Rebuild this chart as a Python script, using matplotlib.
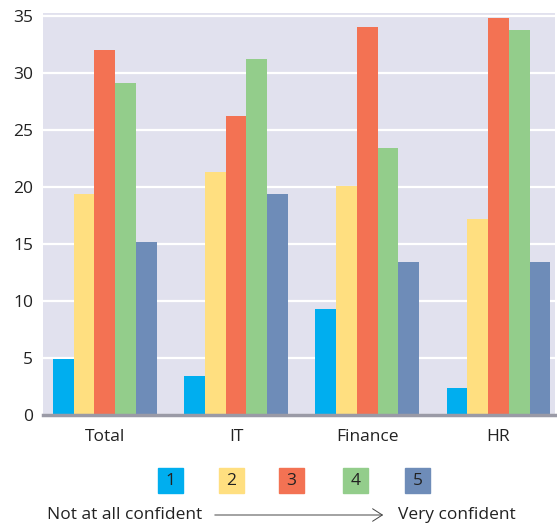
import matplotlib
matplotlib.use("Agg")
import matplotlib.pyplot as plt
import numpy as np
from matplotlib.patches import Rectangle, FancyArrowPatch

plt.rcParams["font.family"] = ["Open Sans", "DejaVu Sans"]

GROUPS = ["Total", "IT", "Finance", "HR"]
LEVELS = ["1", "2", "3", "4", "5"]
COLORS = ["#00AEEF", "#FFDF80", "#F37253", "#93CD8B", "#6E8CB8"]

# share of respondents per confidence level (1 = not at all, 5 = very)
level_1 = [4.9, 3.45, 9.3, 2.35]
level_2 = [19.4, 21.3, 20.1, 17.2]
level_3 = [32.0, 26.2, 34.0, 34.8]
level_4 = [29.1, 31.2, 23.4, 33.8]
level_5 = [15.2, 19.4, 13.4, 13.4]
SERIES = [level_1, level_2, level_3, level_4, level_5]

BG = "#E1E1EE"
TXT = "#222222"
FS = 12.5
W, H = 557, 527
BAR_W = 0.158

fig = plt.figure(figsize=(W / 100, H / 100), dpi=100)
ax = fig.add_axes([43 / W, (H - 415) / H, (555 - 43) / W, (415 - 13) / H])
ax.set_facecolor(BG)

x = np.arange(len(GROUPS))
for i, (vals, col) in enumerate(zip(SERIES, COLORS)):
    ax.bar(x + (i - 2) * BAR_W, vals, width=BAR_W, color=col, zorder=3)

ax.set_xlim(-0.47, 3.43)
ax.set_ylim(0.35, 35.25)
ax.set_yticks(range(0, 36, 5))
ax.set_xticks(x, GROUPS)
ax.yaxis.grid(True, color="white", linewidth=1.6, zorder=1)
ax.set_axisbelow(True)
ax.tick_params(axis="both", length=0, labelsize=FS, colors=TXT)
ax.tick_params(axis="y", pad=7)
ax.tick_params(axis="x", pad=10)
for s in ("top", "right", "left"):
    ax.spines[s].set_visible(False)
ax.spines["bottom"].set_color("#9A9AA6")
ax.spines["bottom"].set_linewidth(2.5)
ax.spines["bottom"].set_zorder(4)

# colour key with the level number inside each square
key_x = [158, 219, 279, 343, 405]
for kx, lab, col in zip(key_x, LEVELS, COLORS):
    fig.add_artist(Rectangle((kx / W, (H - 493) / H), 25 / W, 25 / H,
                             transform=fig.transFigure, color=col))
    fig.text((kx + 12.5) / W, (H - 481) / H, lab, ha="center", va="center",
             fontsize=FS, color=TXT)

fig.text(47 / W, (H - 515) / H, "Not at all confident", ha="left", va="center",
         fontsize=FS, color=TXT)
fig.text(398 / W, (H - 515) / H, "Very confident", ha="left", va="center",
         fontsize=FS, color=TXT)
fig.add_artist(FancyArrowPatch((212 / W, (H - 515) / H), (386 / W, (H - 515) / H),
                               transform=fig.transFigure,
                               arrowstyle="->,head_length=7,head_width=4.5",
                               color="#444444", linewidth=0.7))

fig.savefig("out.png", dpi=100)
